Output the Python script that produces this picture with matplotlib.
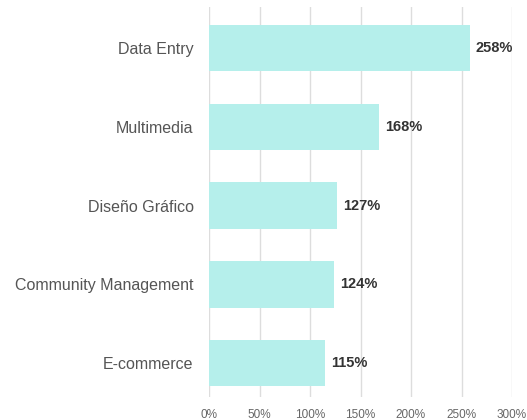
import matplotlib
matplotlib.use("Agg")
import matplotlib.pyplot as plt

categories = ["Data Entry", "Multimedia", "Diseño Gráfico", "Community Management", "E-commerce"]
values = [258, 168, 127, 124, 115]
xticks = [0, 50, 100, 150, 200, 250, 300]
xtick_labels = ["0%", "50%", "100%", "150%", "200%", "250%", "300%"]

plt.rcParams['font.family'] = ['Liberation Sans', 'DejaVu Sans']
fig = plt.figure(figsize=(5.27, 4.20), dpi=100)
ax = fig.add_axes([209/527, 23/420, 303/527, 390/420])

ypos = list(range(len(categories)))
ax.barh(ypos, values, height=0.59, color="#b5efeb", zorder=2)
for y, v in zip(ypos, values):
    ax.text(v + 6, y, f"{v}%", va="center", ha="left", fontsize=10.5, fontweight="bold", color="#333333")

ax.set_ylim(4.43, -0.52)
ax.set_xlim(0, 300)
ax.set_yticks(ypos)
ax.set_yticklabels(categories, fontsize=11.5, color="#555555")
ax.set_xticks(xticks)
ax.set_xticklabels(xtick_labels, fontsize=8.5, color="#666666")
ax.tick_params(axis="both", length=0)
ax.tick_params(axis="y", pad=11)
ax.tick_params(axis="x", pad=9)
ax.grid(axis="x", color="#dddddd", linewidth=1, zorder=0)
ax.set_axisbelow(True)
for s in ax.spines.values():
    s.set_visible(False)

fig.savefig("out.png", dpi=100)
